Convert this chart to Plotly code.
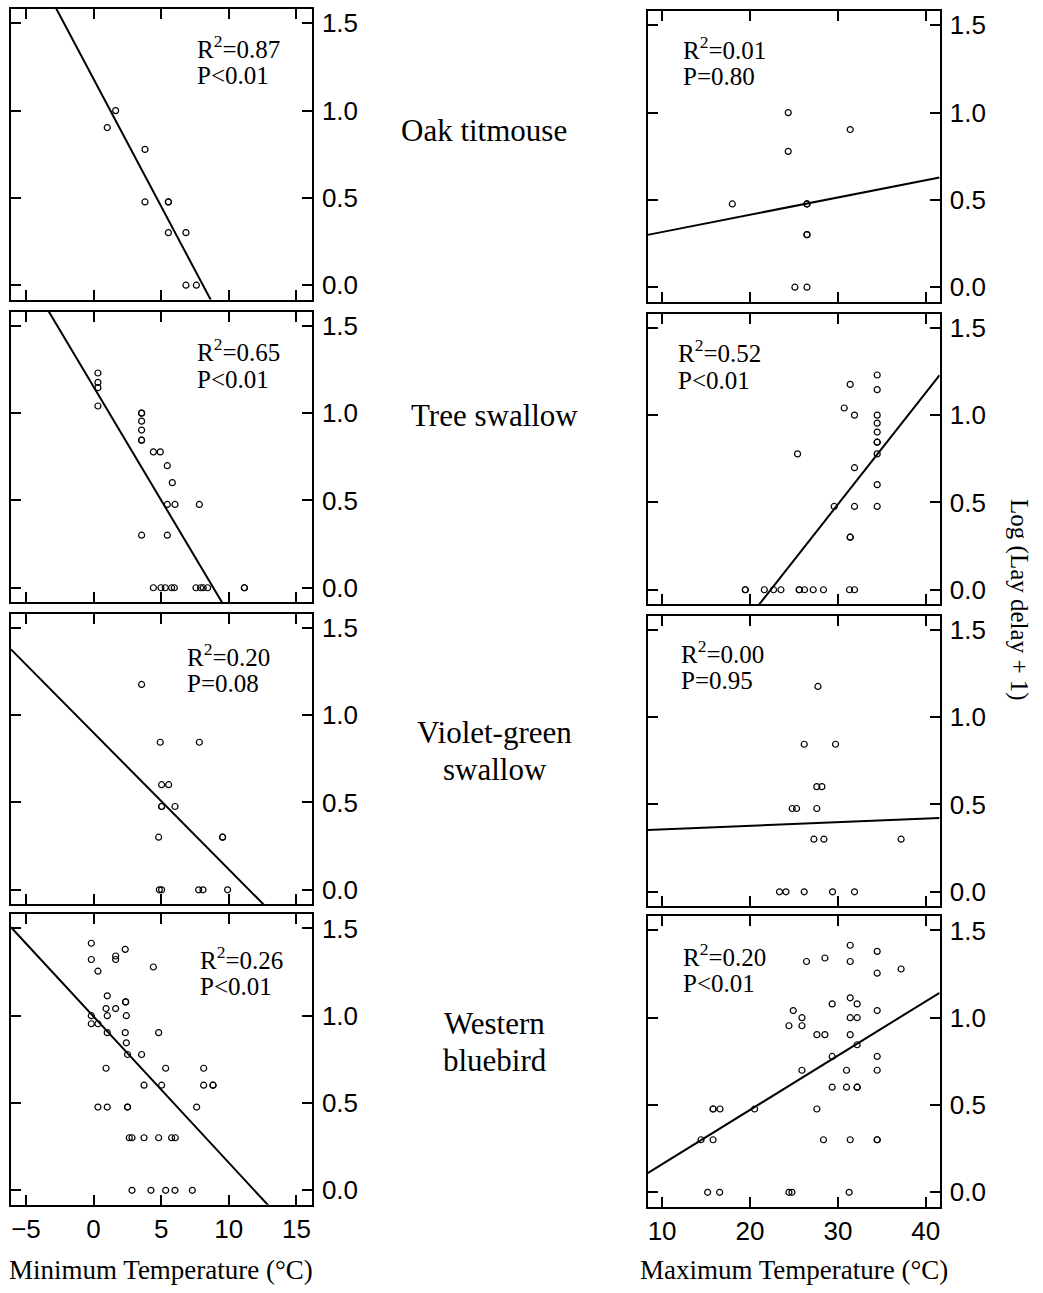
import plotly.graph_objects as go

W, H = 1043, 1293

# ---------------- data ----------------
row_labels = ["Oak titmouse", "Tree swallow", "Violet-green<br>swallow", "Western<br>bluebird"]

r2_min = ["0.87", "0.65", "0.20", "0.26"]
p_min = ["P<0.01", "P<0.01", "P=0.08", "P<0.01"]
r2_max = ["0.01", "0.52", "0.00", "0.20"]
p_max = ["P=0.80", "P<0.01", "P=0.95", "P<0.01"]

# regression lines: y = intercept + slope * x
min_intercepts = [1.181, 1.151, 0.899, 0.995]
min_slopes = [-0.146, -0.130, -0.0782, -0.0837]
max_intercepts = [0.217, -1.431, 0.337, -0.150]
max_slopes = [0.0099, 0.064, 0.00207, 0.0311]

# Oak titmouse
oak_min_x = [1.63, 1.01, 3.80, 3.80, 5.53, 5.53, 5.53, 6.83, 6.83, 7.60]
oak_min_y = [1.000, 0.903, 0.778, 0.477, 0.477, 0.477, 0.301, 0.301, 0.0, 0.0]
oak_max_x = [24.35, 31.40, 24.35, 17.99, 26.48, 26.48, 26.48, 26.48, 25.11, 26.48]
oak_max_y = [1.000, 0.903, 0.778, 0.477, 0.477, 0.477, 0.301, 0.301, 0.0, 0.0]

# Tree swallow
tree_min_x = [0.32, 0.32, 0.32, 0.32, 3.55, 3.55, 3.55, 3.55, 3.55, 3.55, 4.42, 4.93,
              5.45, 5.82, 5.45, 6.02, 7.82, 3.55, 5.45,
              4.42, 4.98, 5.30, 5.77, 5.97, 7.57, 7.91, 8.11, 8.43, 11.15, 11.15]
tree_min_y = [1.230, 1.176, 1.146, 1.041, 1.000, 1.000, 0.954, 0.903, 0.845, 0.845, 0.778, 0.778,
              0.699, 0.602, 0.477, 0.477, 0.477, 0.301, 0.301,
              0, 0, 0, 0, 0, 0, 0, 0, 0, 0, 0]
tree_max_x = [34.47, 31.40, 34.47, 30.72, 31.89, 34.47, 34.47, 34.47, 34.47, 34.47, 34.47, 25.41,
              31.89, 34.47, 29.58, 31.89, 34.47, 31.40, 31.40,
              19.47, 19.47, 21.63, 22.68, 23.52, 25.60, 25.60, 26.20, 27.19, 28.36, 31.32, 31.89]
tree_max_y = [1.230, 1.176, 1.146, 1.041, 1.000, 1.000, 0.954, 0.903, 0.845, 0.845, 0.778, 0.778,
              0.699, 0.602, 0.477, 0.477, 0.477, 0.301, 0.301,
              0, 0, 0, 0, 0, 0, 0, 0, 0, 0, 0, 0]

# Violet-green swallow
vg_min_x = [3.55, 4.93, 7.82, 5.03, 5.55, 5.03, 5.03, 6.02, 4.81, 9.54, 9.54,
            4.86, 5.03, 7.77, 8.09, 9.91]
vg_min_y = [1.176, 0.845, 0.845, 0.602, 0.602, 0.477, 0.477, 0.477, 0.301, 0.301, 0.301,
            0, 0, 0, 0, 0]
vg_max_x = [27.73, 26.17, 29.73, 27.60, 28.18, 24.80, 25.30, 27.60, 27.27, 28.41, 37.19,
            23.36, 24.09, 26.17, 29.39, 31.89]
vg_max_y = [1.176, 0.845, 0.845, 0.602, 0.602, 0.477, 0.477, 0.477, 0.301, 0.301, 0.301,
            0, 0, 0, 0, 0]

# Western bluebird
wb_min_x = [-0.17, 2.34, -0.17, 1.63, 1.63, 4.42, 0.32, 1.01, 2.37, 2.37, 0.92, 1.63,
            -0.17, 1.01, 2.42, -0.17, 0.32, 1.01, 2.34, 4.81, 2.42, 2.51, 3.55,
            0.92, 5.33, 8.14, 3.73, 5.03, 8.14, 8.83, 8.83,
            0.32, 1.01, 2.51, 2.51, 7.62,
            2.64, 2.84, 3.73, 4.81, 5.77, 6.04,
            2.84, 4.24, 5.33, 6.02, 7.30]
wb_min_y = [1.415, 1.380, 1.322, 1.342, 1.322, 1.279, 1.255, 1.114, 1.079, 1.079, 1.041, 1.041,
            1.000, 1.000, 1.000, 0.954, 0.954, 0.903, 0.903, 0.903, 0.845, 0.778, 0.778,
            0.699, 0.699, 0.699, 0.602, 0.602, 0.602, 0.602, 0.602,
            0.477, 0.477, 0.477, 0.477, 0.477,
            0.301, 0.301, 0.301, 0.301, 0.301, 0.301,
            0, 0, 0, 0, 0]
wb_max_x = [31.40, 34.47, 28.52, 26.43, 31.40, 37.19, 34.47, 31.40, 29.35, 32.19, 24.92, 34.47,
            25.91, 31.40, 32.19, 24.43, 25.91, 27.61, 28.52, 31.40, 32.19, 29.35, 34.47,
            25.91, 30.98, 34.47, 29.35, 30.98, 32.19, 32.19,
            15.80, 15.80, 16.59, 20.52, 27.61,
            14.43, 15.80, 28.36, 31.40, 34.47, 34.47,
            15.18, 16.55, 24.43, 24.77, 31.28]
wb_max_y = [1.415, 1.380, 1.342, 1.322, 1.322, 1.279, 1.255, 1.114, 1.079, 1.079, 1.041, 1.041,
            1.000, 1.000, 1.000, 0.954, 0.954, 0.903, 0.903, 0.903, 0.845, 0.778, 0.778,
            0.699, 0.699, 0.699, 0.602, 0.602, 0.602, 0.602,
            0.477, 0.477, 0.477, 0.477, 0.477,
            0.301, 0.301, 0.301, 0.301, 0.301, 0.301,
            0, 0, 0, 0, 0]

min_x_sets = [oak_min_x, tree_min_x, vg_min_x, wb_min_x]
min_y_sets = [oak_min_y, tree_min_y, vg_min_y, wb_min_y]
max_x_sets = [oak_max_x, tree_max_x, vg_max_x, wb_max_x]
max_y_sets = [oak_max_y, tree_max_y, vg_max_y, wb_max_y]

min_ticks = [-5, 0, 5, 10, 15]
max_ticks = [10, 20, 30, 40]
y_ticks = [0.0, 0.5, 1.0, 1.5]
y_ticktext = ["0.0", "0.5", "1.0", "1.5"]

x_title_min = "Minimum Temperature (°C)"
x_title_max = "Maximum Temperature (°C)"
y_title = "Log (Lay delay + 1)"

# ---------------- layout geometry ----------------
min_range = [-6.11, 16.13]
max_range = [8.36, 41.57]
y_range = [-0.082, 1.582]
left_px = (11, 312)
right_px = (648.3, 940.5)
row_tops = [8, 311, 613.5, 914.5]
row_h = 291
right_shift = 2

SANS = "Liberation Sans, Arial, sans-serif"
SERIF = "Liberation Serif, Times New Roman, serif"

fig = go.Figure()
layout = dict(
    width=W, height=H, margin=dict(l=0, r=0, t=0, b=0),
    paper_bgcolor="white", plot_bgcolor="white", showlegend=False,
    font=dict(family=SANS, size=26, color="black"),
)


def esc(s):
    return s.replace("<", "&lt;")


annotations = []
r2_left_pos = [(195, 46), (195, 350), (185, 655), (198, 958)]
r2_right_pos = [(682, 47), (677, 351), (680, 652), (682, 955)]
label_pos = [(484, 130), (495, 415), (495, 751), (495, 1043)]
label_line_gap = 37

for i in range(4):
    for side in range(2):
        k = 2 * i + side + 1
        sfx = "" if k == 1 else str(k)
        xs = (min_x_sets if side == 0 else max_x_sets)[i]
        ys = (min_y_sets if side == 0 else max_y_sets)[i]
        rng = min_range if side == 0 else max_range
        b0 = (min_intercepts if side == 0 else max_intercepts)[i]
        b1 = (min_slopes if side == 0 else max_slopes)[i]
        px = left_px if side == 0 else right_px
        top = row_tops[i] + (right_shift if side == 1 else 0)
        bot = top + row_h

        fig.add_trace(go.Scatter(
            x=xs, y=ys, mode="markers", xaxis="x" + sfx, yaxis="y" + sfx,
            marker=dict(symbol="circle-open", size=6, color="black", line=dict(width=1.2, color="black")),
            hoverinfo="skip"))
        lx = [rng[0], rng[1]]
        ly = [b0 + b1 * v for v in lx]
        fig.add_trace(go.Scatter(
            x=lx, y=ly, mode="lines", xaxis="x" + sfx, yaxis="y" + sfx,
            line=dict(color="black", width=2), hoverinfo="skip"))

        layout["xaxis" + sfx] = dict(
            domain=[px[0] / W, px[1] / W], range=rng, anchor="y" + sfx,
            tickmode="array", tickvals=(min_ticks if side == 0 else max_ticks),
            ticks="inside", ticklen=10, tickwidth=2, tickcolor="black",
            showline=True, linecolor="black", linewidth=2, mirror="ticks",
            showgrid=False, zeroline=False,
            showticklabels=(i == 3), tickfont=dict(family=SANS, size=26, color="black"),
            ticklabelstandoff=0,
        )
        layout["yaxis" + sfx] = dict(
            domain=[1 - bot / H, 1 - top / H], range=y_range, anchor="x" + sfx,
            side="right",
            tickmode="array", tickvals=y_ticks, ticktext=y_ticktext,
            ticks="inside", ticklen=10, tickwidth=2, tickcolor="black",
            showline=True, linecolor="black", linewidth=2, mirror="ticks",
            showgrid=False, zeroline=False,
            tickfont=dict(family=SANS, size=26, color="black"),
            ticklabelstandoff=3,
        )

        r2 = (r2_min if side == 0 else r2_max)[i]
        pv = (p_min if side == 0 else p_max)[i]
        ax_, ay_ = (r2_left_pos if side == 0 else r2_right_pos)[i]
        annotations.append(dict(
            x=ax_ / W, y=1 - ay_ / H, xref="paper", yref="paper",
            text="R<sup>2</sup>=" + r2, showarrow=False, xanchor="left", yanchor="middle",
            font=dict(family=SERIF, size=25, color="black")))
        annotations.append(dict(
            x=ax_ / W, y=1 - (ay_ + 29) / H, xref="paper", yref="paper",
            text=esc(pv), showarrow=False, xanchor="left", yanchor="middle",
            font=dict(family=SERIF, size=25, color="black")))

    lxp, lyp = label_pos[i]
    lines = row_labels[i].split("<br>")
    n = len(lines)
    for j, ln in enumerate(lines):
        yy = lyp + (j - (n - 1) / 2) * label_line_gap
        annotations.append(dict(
            x=lxp / W, y=1 - yy / H, xref="paper", yref="paper",
            text=ln, showarrow=False, xanchor="center", yanchor="middle",
            font=dict(family=SERIF, size=31, color="black")))

annotations.append(dict(
    x=161.5 / W, y=1 - 1271 / H, xref="paper", yref="paper", text=x_title_min,
    showarrow=False, xanchor="center", yanchor="middle",
    font=dict(family=SERIF, size=27, color="black")))
annotations.append(dict(
    x=795 / W, y=1 - 1271 / H, xref="paper", yref="paper", text=x_title_max,
    showarrow=False, xanchor="center", yanchor="middle",
    font=dict(family=SERIF, size=27, color="black")))
annotations.append(dict(
    x=1020 / W, y=1 - 600 / H, xref="paper", yref="paper", text=y_title,
    showarrow=False, xanchor="center", yanchor="middle", textangle=90,
    font=dict(family=SERIF, size=25, color="black")))

layout["annotations"] = annotations
fig.update_layout(**layout)
fig.write_html(
    "out.html",
    config={"displayModeBar": False},
    post_script="document.body.style.margin='0';document.body.style.padding='0';",
)
